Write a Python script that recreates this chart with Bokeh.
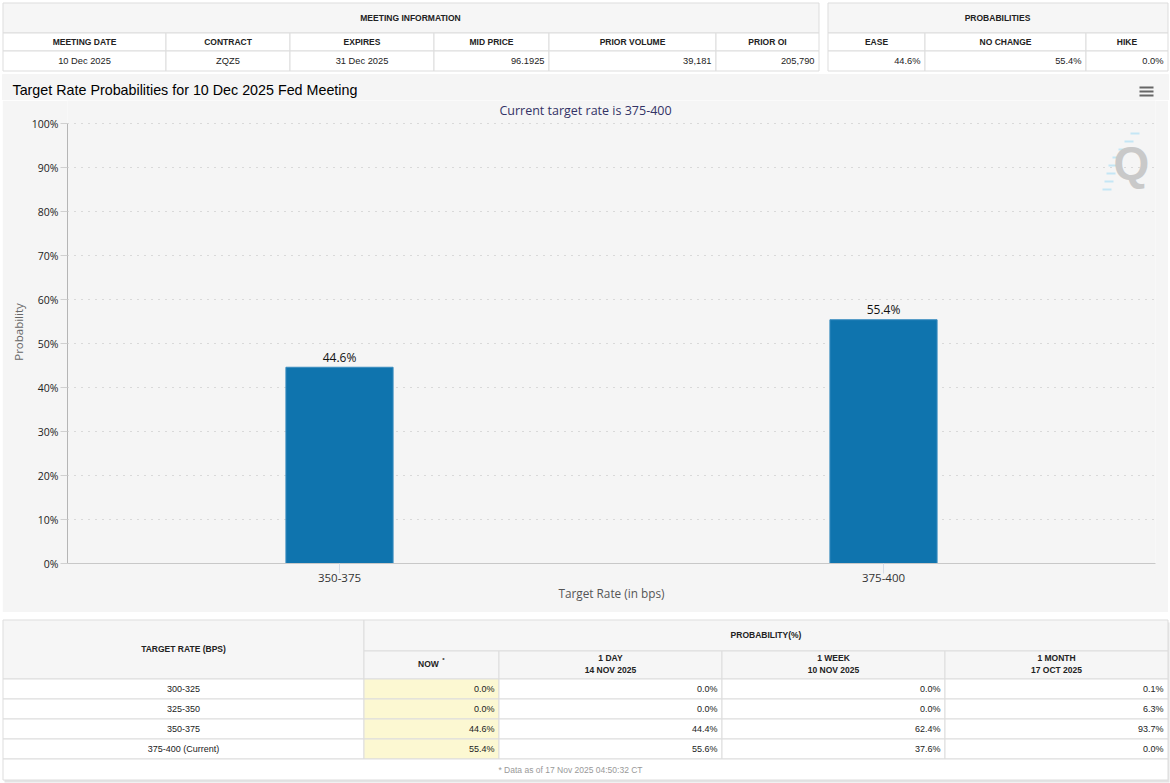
from bokeh.plotting import figure
from bokeh.models import (Range1d, FactorRange, ColumnDataSource, Label,
                          FixedTicker, PrintfTickFormatter, Spacer)
from bokeh.layouts import column, row
from bokeh.core.properties import value
from bokeh.embed import file_html
from bokeh.resources import INLINE

# ---------------- data ----------------
meeting_headers = ["MEETING DATE", "CONTRACT", "EXPIRES", "MID PRICE", "PRIOR VOLUME", "PRIOR OI"]
meeting_values = ["10 Dec 2025", "ZQZ5", "31 Dec 2025", "96.1925", "39,181", "205,790"]
prob_headers = ["EASE", "NO CHANGE", "HIKE"]
prob_values = ["44.6%", "55.4%", "0.0%"]

chart_title = "Target Rate Probabilities for 10 Dec 2025 Fed Meeting"
chart_subtitle = "Current target rate is 375-400"
chart_cats = ["350-375", "375-400"]
chart_vals = [44.6, 55.4]

target_rates = ["300-325", "325-350", "350-375", "375-400 (Current)"]
prob_now = [0.0, 0.0, 44.6, 55.4]
prob_1day = [0.0, 0.0, 44.4, 55.6]
prob_1week = [0.0, 0.0, 62.4, 37.6]
prob_1month = [0.1, 6.3, 93.7, 0.0]
period_names = ["1 DAY", "1 WEEK", "1 MONTH"]
period_dates = ["14 NOV 2025", "10 NOV 2025", "17 OCT 2025"]
footnote = "* Data as of 17 Nov 2025 04:50:32 CT"

# ---------------- styles / layout constants ----------------
PW, PH = 1170, 783
BORDER = "#dddddd"
HEAD_BG = "#f6f6f6"
CHART_BG = "#f5f5f5"
YELLOW = "#fcf8d2"
TFONT = value("Liberation Sans")
L, R = 2.5, 1167.5
TOP_H = 100          # top figure: tables + chart title strip
CHART_TOP = 100
CHART_BOTTOM = 612
FL, FR, FT, FB = 67, 1155, 123, 563   # plot frame / axis extents in page px


def table_fig(y0, y1):
    p = figure(width=PW, height=y1 - y0, x_range=Range1d(0, PW), y_range=Range1d(y1, y0),
               x_axis_type=None, y_axis_type=None, toolbar_location=None, tools="",
               output_backend="svg", min_border=0, min_border_left=0, min_border_right=0,
               min_border_top=0, min_border_bottom=0, outline_line_color=None,
               background_fill_color="white", border_fill_color="white")
    p.frame_align = False
    return p


def cells(p, l, r, t, b, fill, line=BORDER):
    src = ColumnDataSource(dict(left=l, right=r, top=t, bottom=b, fill=fill))
    p.quad(left="left", right="right", top="top", bottom="bottom", fill_color="fill",
           line_color=line, line_width=1, source=src)


def texts(p, xs, ys, txt, align="center", bold=False, size="9px", color="#222222",
          font=TFONT):
    p.text(x=xs, y=ys, text=txt, text_align=align, text_baseline="middle",
           text_font=font, text_font_size=size, text_color=color,
           text_font_style="bold" if bold else "normal")


# ---------------- top tables ----------------
top = table_fig(0, TOP_H)
# chart header strip (grey background behind title + menu icon)
cells(top, [2], [1168], [74], [TOP_H], [CHART_BG], line=CHART_BG)

mcols = [L, 165.5, 289.5, 433.5, 548.5, 715.5, 818.5]
pcols = [827.5, 924.5, 1085.5, R]
r1, r2, r3, r4 = 2.5, 32.5, 50.5, 70.5
for cols in (mcols, pcols):
    cells(top, [cols[0]], [cols[-1]], [r1], [r2], [HEAD_BG])
    n = len(cols) - 1
    cells(top, cols[:-1], cols[1:], [r2] * n, [r3] * n, ["white"] * n)
    cells(top, cols[:-1], cols[1:], [r3] * n, [r4] * n, ["white"] * n)
texts(top, [410, 997], [17, 17], ["MEETING INFORMATION", "PROBABILITIES"], bold=True, size="8.5px")

texts(top, [(a + b) / 2 for a, b in zip(mcols[:-1], mcols[1:])], [41] * 6, meeting_headers,
      bold=True, size="8.5px")
texts(top, [(a + b) / 2 for a, b in zip(mcols[:3], mcols[1:4])], [60] * 3, meeting_values[:3],
      size="9.3px")
texts(top, [c - 4.5 for c in mcols[4:]], [60] * 3, meeting_values[3:], align="right",
      size="9.3px")
texts(top, [(a + b) / 2 for a, b in zip(pcols[:-1], pcols[1:])], [41] * 3, prob_headers,
      bold=True, size="8.5px")
texts(top, [c - 4.5 for c in pcols[1:]], [60] * 3, prob_values, align="right", size="9.3px")

texts(top, [12], [89], [chart_title], align="left", size="14.3px", color="#000000")
top.segment(x0=[1139] * 3, x1=[1153] * 3, y0=[87, 91, 95], y1=[87, 91, 95],
            line_color="#666666", line_width=2)

# ---------------- chart ----------------
CW = 1166  # chart figure width (2px white on each side)
y_top_val = (FB - CHART_TOP) / (FB - FT) * 100


def dx(px):
    return (px - FL) / (FR - FL) * len(chart_cats)


def dy(py):
    return (FB - py) / (FB - FT) * 100


chart = figure(width=CW, height=CHART_BOTTOM - CHART_TOP, x_range=FactorRange(factors=chart_cats),
               y_range=Range1d(0, y_top_val), toolbar_location=None, tools="",
               output_backend="svg", min_border_left=FL - 2, min_border_right=2 + CW - FR,
               min_border_top=0, min_border_bottom=CHART_BOTTOM - FB,
               background_fill_color=CHART_BG, border_fill_color=CHART_BG,
               outline_line_color=None)
chart.frame_align = False

src = ColumnDataSource(dict(cat=chart_cats, val=chart_vals,
                            lab=["%.1f%%" % v for v in chart_vals]))
chart.vbar(x="cat", top="val", width=0.197, source=src, fill_color="#0f74ae",
           line_color="#3a8cbf", line_width=1)
chart.text(x="cat", y="val", text="lab", source=src, text_align="center",
           text_baseline="middle", y_offset=-10, text_font=value("Open Sans"),
           text_font_size="12px", text_color="#111111")

chart.xgrid.visible = False
chart.ygrid.grid_line_color = "#bdbdbd"
chart.ygrid.grid_line_dash = "1 6"
chart.ygrid.grid_line_width = 1

ya = chart.yaxis[0]
ya.ticker = FixedTicker(ticks=list(range(0, 101, 10)))
ya.bounds = (0, 100)
ya.formatter = PrintfTickFormatter(format="%d%%")
ya.axis_line_color = "#b5b5b5"
ya.major_tick_line_color = "#d0d0d0"
ya.major_tick_out = 7
ya.major_tick_in = 0
ya.minor_tick_line_color = None
ya.major_label_standoff = 2
ya.major_label_text_font = "Open Sans"
ya.major_label_text_font_size = "10.5px"
ya.major_label_text_color = "#222222"
ya.axis_label = "Probability"
ya.axis_label_text_font = "Open Sans"
ya.axis_label_text_font_size = "11.5px"
ya.axis_label_text_font_style = "normal"
ya.axis_label_text_color = "#666666"
ya.axis_label_standoff = 3

xa = chart.xaxis[0]
xa.axis_line_color = "#c8c8c8"
xa.major_tick_line_color = "#d5dbe6"
xa.major_tick_out = 10
xa.major_tick_in = 0
xa.minor_tick_line_color = None
xa.major_label_standoff = 0
xa.major_label_text_font = "Open Sans"
xa.major_label_text_font_size = "11.5px"
xa.major_label_text_color = "#333333"
xa.axis_label = "Target Rate (in bps)"
xa.axis_label_text_font = "Open Sans"
xa.axis_label_text_font_size = "11.8px"
xa.axis_label_text_font_style = "normal"
xa.axis_label_text_color = "#555555"
xa.axis_label_standoff = 0

chart.add_layout(Label(x=dx(585), y=dy(110), text=chart_subtitle, text_font="Open Sans",
                       text_font_size="12.5px", text_color="#333366", text_baseline="middle",
                       text_align="center"))
# watermark
streak_y = [133, 141, 149, 157, 165, 173, 181, 189]
streak_x0 = [1130, 1124, 1118, 1112, 1108, 1106, 1104, 1102]
chart.segment(x0=[dx(v) for v in streak_x0], x1=[dx(v + 9) for v in streak_x0],
              y0=[dy(v) for v in streak_y], y1=[dy(v) for v in streak_y],
              line_color="#b9e2f5", line_width=2, line_alpha=0.8)
chart.add_layout(Label(x=dx(1131), y=dy(162), text="Q", text_font="Liberation Sans",
                       text_font_style="bold", text_font_size="46px", text_color="#c9c9c9",
                       text_baseline="middle", text_align="center"))

chart_row = row(Spacer(width=2, height=CHART_BOTTOM - CHART_TOP), chart,
                Spacer(width=2, height=CHART_BOTTOM - CHART_TOP), spacing=0)

# ---------------- bottom table ----------------
bot = table_fig(CHART_BOTTOM, PH)
bcols = [L, 363.5, 498.5, 721.5, 944.5, R]
by = [619.5, 650.5, 678.5, 698.5, 718.5, 738.5, 758.5, 779.5]
bot.quad(left=[4], right=[1169], top=[622], bottom=[782], fill_color="#e4e4e4", line_color=None)
cells(bot, [bcols[0]], [bcols[1]], [by[0]], [by[2]], [HEAD_BG])
cells(bot, [bcols[1]], [bcols[-1]], [by[0]], [by[1]], [HEAD_BG])
cells(bot, bcols[1:-1], bcols[2:], [by[1]] * 4, [by[2]] * 4, [HEAD_BG] * 4)
for i in range(len(target_rates)):
    cells(bot, bcols[:-1], bcols[1:], [by[2 + i]] * 5, [by[3 + i]] * 5,
          ["white", YELLOW, "white", "white", "white"])
cells(bot, [bcols[0]], [bcols[-1]], [by[6]], [by[7]], ["white"])

texts(bot, [(bcols[0] + bcols[1]) / 2], [648], ["TARGET RATE (BPS)"], bold=True, size="8.5px")
texts(bot, [(bcols[1] + bcols[-1]) / 2], [634], ["PROBABILITY(%)"], bold=True, size="8.5px")
texts(bot, [428], [663], ["NOW"], bold=True, size="8.5px")
texts(bot, [443], [659], ["*"], bold=True, size="6px")
pc = [(a + b) / 2 for a, b in zip(bcols[2:-1], bcols[3:])]
texts(bot, pc, [657] * 3, period_names, bold=True, size="8.5px")
texts(bot, pc, [669] * 3, period_dates, bold=True, size="8.5px")

rows_y = [688, 708, 728, 748]
texts(bot, [(bcols[0] + bcols[1]) / 2] * 4, rows_y, target_rates)
for col_i, series in enumerate([prob_now, prob_1day, prob_1week, prob_1month]):
    texts(bot, [bcols[col_i + 2] - 4.5] * 4, rows_y, ["%.1f%%" % v for v in series],
          align="right")
texts(bot, [570], [769], [footnote], size="8.5px", color="#999999")

layout = column(top, chart_row, bot, spacing=0)
open("out.html", "w").write(file_html(layout, INLINE))
